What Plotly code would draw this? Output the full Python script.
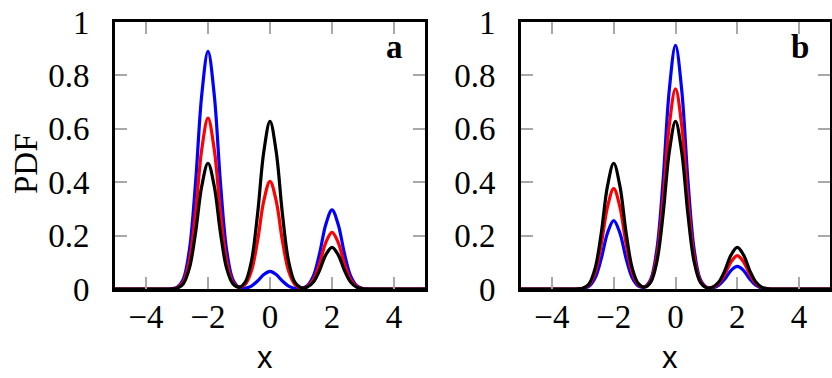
import plotly.graph_objects as go

# x positions (shared by all curves)
X = [-5.0, -4.0, -3.6, -3.4, -3.2, -3.0, -2.8, -2.6, -2.4, -2.2, -2.0, -1.8, -1.6, -1.4,
     -1.2, -1.0, -0.8, -0.6, -0.4, -0.2, 0.0, 0.2, 0.4, 0.6, 0.8, 1.0, 1.2, 1.4, 1.6,
     1.8, 2.0, 2.2, 2.4, 2.6, 2.8, 3.0, 3.2, 3.4, 3.6, 4.0, 5.0]

# panel a
a_blue = [0, 0, 0, 0, 0.001, 0.006, 0.036, 0.147, 0.400, 0.729, 0.890,
          0.729, 0.400, 0.147, 0.036, 0.006, 0.003, 0.011, 0.030, 0.054,
          0.066,
          0.054, 0.030, 0.011, 0.003, 0.002, 0.012, 0.049, 0.133, 0.242,
          0.296,
          0.242, 0.133, 0.049, 0.012, 0.002, 0.000, 0, 0, 0, 0]
a_red = [0, 0, 0, 0, 0.000, 0.004, 0.026, 0.106, 0.288, 0.524, 0.640,
         0.524, 0.288, 0.106, 0.026, 0.007, 0.017, 0.067, 0.181, 0.330,
         0.403,
         0.330, 0.181, 0.067, 0.017, 0.004, 0.009, 0.035, 0.095, 0.174,
         0.212,
         0.174, 0.095, 0.035, 0.009, 0.001, 0.000, 0, 0, 0, 0]
a_black = [0, 0, 0, 0, 0.000, 0.003, 0.019, 0.078, 0.212, 0.386, 0.471,
           0.386, 0.212, 0.078, 0.020, 0.007, 0.026, 0.104, 0.282, 0.514,
           0.628,
           0.514, 0.282, 0.104, 0.026, 0.005, 0.007, 0.026, 0.070, 0.128,
           0.156,
           0.128, 0.070, 0.026, 0.006, 0.001, 0.000, 0, 0, 0, 0]

# panel b
b_blue = [0, 0, 0, 0, 0.000, 0.002, 0.010, 0.042, 0.115, 0.210, 0.256,
          0.210, 0.115, 0.042, 0.011, 0.008, 0.037, 0.151, 0.410, 0.747,
          0.913,
          0.747, 0.410, 0.151, 0.037, 0.007, 0.004, 0.014, 0.038, 0.070,
          0.085,
          0.070, 0.038, 0.014, 0.003, 0.001, 0.000, 0, 0, 0, 0]
b_red = [0, 0, 0, 0, 0.000, 0.003, 0.015, 0.062, 0.169, 0.308, 0.376,
         0.308, 0.169, 0.062, 0.016, 0.008, 0.031, 0.124, 0.337, 0.614,
         0.750,
         0.614, 0.337, 0.124, 0.031, 0.006, 0.006, 0.021, 0.056, 0.102,
         0.125,
         0.102, 0.056, 0.021, 0.005, 0.001, 0.000, 0, 0, 0, 0]
b_black = [0, 0, 0, 0, 0.000, 0.003, 0.019, 0.078, 0.212, 0.386, 0.471,
           0.386, 0.212, 0.078, 0.020, 0.007, 0.026, 0.104, 0.282, 0.514,
           0.628,
           0.514, 0.282, 0.104, 0.026, 0.005, 0.007, 0.026, 0.070, 0.128,
           0.156,
           0.128, 0.070, 0.026, 0.006, 0.001, 0.000, 0, 0, 0, 0]

x_tickvals = [-4, -2, 0, 2, 4]
x_ticktext = ["\u22124", "\u22122", "0", "2", "4"]
y_tickvals = [0, 0.2, 0.4, 0.6, 0.8, 1]
y_ticktext = ["0", "0.2", "0.4", "0.6", "0.8", "1"]
panel_labels = ["a", "b"]
colors = ["#0000ff", "#ff0000", "#000000"]

W, H = 832, 378
SERIF = "Liberation Serif"
FS = 33

fig = go.Figure()
panels = [(a_blue, a_red, a_black), (b_blue, b_red, b_black)]
for i, series in enumerate(panels):
    xa = "x" if i == 0 else "x2"
    ya = "y" if i == 0 else "y2"
    for ys, c in zip(series, colors):
        fig.add_trace(go.Scatter(x=X, y=ys, mode="lines", xaxis=xa, yaxis=ya,
                                 line=dict(color=c, width=3.2, shape="spline", smoothing=1),
                                 showlegend=False, hoverinfo="skip"))

def px_x(p):
    return p / W

def px_y(p):
    return 1 - p / H

axis_common = dict(showline=True, linecolor="black", linewidth=3, mirror="ticks",
                   ticks="inside", ticklen=12, tickwidth=1.5, tickcolor="#a8a8a8",
                   showgrid=False, zeroline=False, automargin=False,
                   tickfont=dict(family=SERIF, size=FS, color="black"))

fig.update_layout(
    template="none",
    width=W, height=H, margin=dict(l=0, r=0, t=0, b=0, pad=0),
    paper_bgcolor="white", plot_bgcolor="white",
    xaxis=dict(domain=[px_x(115), px_x(425)], range=[-5, 5], tickvals=x_tickvals,
               ticktext=x_ticktext, anchor="y", ticklabelstandoff=-4, **axis_common),
    yaxis=dict(domain=[px_y(289), px_y(22)], range=[0, 1], tickvals=y_tickvals,
               ticktext=y_ticktext, anchor="x", ticklabelstandoff=16, **axis_common),
    xaxis2=dict(domain=[px_x(521), px_x(830)], range=[-5, 5], tickvals=x_tickvals,
                ticktext=x_ticktext, anchor="y2", ticklabelstandoff=-4, **axis_common),
    yaxis2=dict(domain=[px_y(289), px_y(22)], range=[0, 1], tickvals=y_tickvals,
                ticktext=y_ticktext, anchor="x2", ticklabelstandoff=16, **axis_common),
)

ann = []
ann.append(dict(text="PDF", x=px_x(26), y=px_y(164), xref="paper", yref="paper",
                textangle=-90, showarrow=False, xanchor="center", yanchor="middle",
                font=dict(family=SERIF, size=FS, color="black")))
for cx in (265, 670):
    ann.append(dict(text="x", x=px_x(cx), y=px_y(357), xref="paper", yref="paper",
                    showarrow=False, xanchor="center", yanchor="middle",
                    font=dict(family="Liberation Sans", size=31, color="black")))
for lbl, (cx, cy) in zip(panel_labels, [(394, 47), (800, 47)]):
    ann.append(dict(text="<b>" + lbl + "</b>", x=px_x(cx), y=px_y(cy), xref="paper",
                    yref="paper", showarrow=False, xanchor="center", yanchor="middle",
                    font=dict(family=SERIF, size=FS, color="black")))
fig.update_layout(annotations=ann)

fig.write_html("out.html", config={"displayModeBar": False},
               post_script="document.body.style.margin='0';document.body.style.overflow='hidden';")
